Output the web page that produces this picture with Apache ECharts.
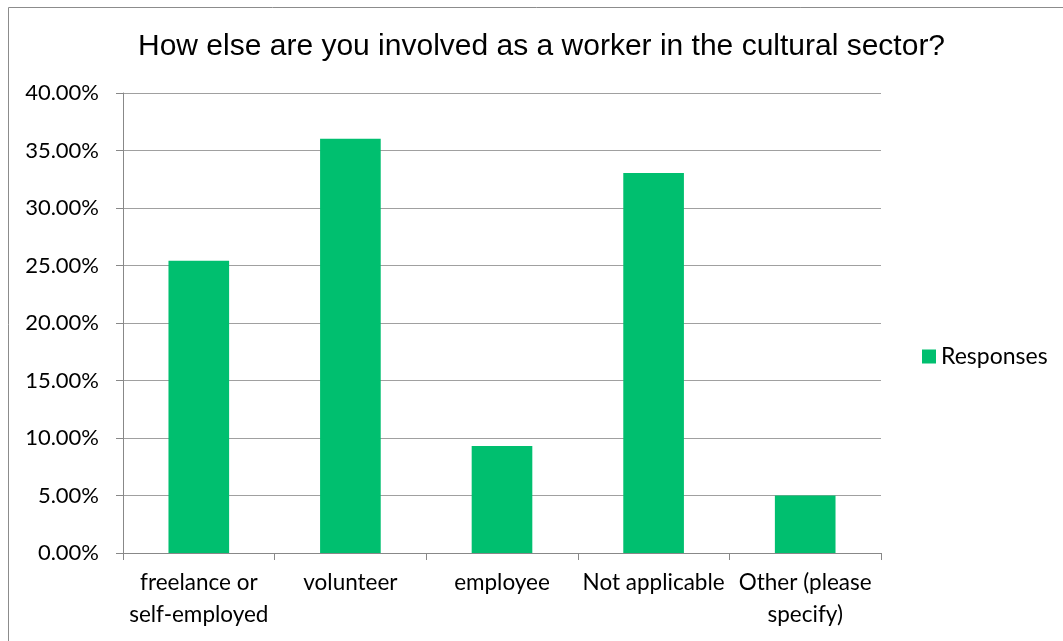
<!DOCTYPE html>
<html>
<head>
<meta charset="utf-8">
<script src="https://cdn.jsdelivr.net/npm/echarts@6/dist/echarts.min.js"></script>
<style>
  html, body { margin: 0; padding: 0; background: #ffffff; }
  #chart { width: 1063px; height: 641px; }
</style>
</head>
<body>
<div id="chart"></div>
<script>
// Survey question and answer options
const chartTitle = 'How else are you involved as a worker in the cultural sector?';
const categories = [
  'freelance or\nself-employed',
  'volunteer',
  'employee',
  'Not applicable',
  'Other (please\nspecify)'
];
// Share of responses, in percent
const responses = [25.42, 36.02, 9.30, 33.05, 5.00];
const seriesName = 'Responses';
// Value axis range and step, in percent
const yMin = 0;
const yMax = 40;
const yStep = 5;

const labelFont = 'Lato, "Open Sans", sans-serif';
const chart = echarts.init(document.getElementById('chart'));

chart.setOption({
  backgroundColor: '#ffffff',
  animation: false,
  title: {
    text: chartTitle,
    left: 133,
    top: 27,
    textStyle: {
      fontFamily: '"Liberation Sans", Arial, sans-serif',
      fontSize: 30,
      fontWeight: 'normal',
      color: '#000000'
    }
  },
  legend: {
    data: [seriesName],
    orient: 'vertical',
    left: 917,
    top: 340,
    icon: 'rect',
    itemWidth: 14,
    itemHeight: 14,
    textStyle: { fontFamily: labelFont, fontSize: 23, color: '#000000' }
  },
  grid: {
    left: 123,
    right: 182,
    top: 93,
    bottom: 88,
    containLabel: false
  },
  xAxis: {
    type: 'category',
    data: categories,
    axisLine: { lineStyle: { color: '#888888', width: 1 } },
    axisTick: { show: true, length: 7, lineStyle: { color: '#888888' } },
    axisLabel: {
      color: '#000000',
      fontFamily: labelFont,
      fontSize: 22.5,
      lineHeight: 32,
      margin: 14,
      interval: 0
    }
  },
  yAxis: {
    type: 'value',
    min: yMin,
    max: yMax,
    interval: yStep,
    axisLine: { show: true, lineStyle: { color: '#888888', width: 1 } },
    axisTick: { show: true, length: 7, lineStyle: { color: '#888888' } },
    axisLabel: {
      color: '#000000',
      fontFamily: labelFont,
      fontSize: 22,
      margin: 24,
      formatter: v => v.toFixed(2) + '%'
    },
    splitLine: { show: true, lineStyle: { color: '#a0a0a0', width: 1 } }
  },
  series: [{
    name: seriesName,
    type: 'bar',
    data: responses,
    barCategoryGap: '60%',
    itemStyle: { color: '#00BF6F' }
  }],
  graphic: [{
    type: 'rect',
    shape: { x: 8.5, y: 7.5, width: 1100, height: 700 },
    style: { fill: 'none', stroke: '#8c8c8c', lineWidth: 1 },
    silent: true
  }]
});
</script>
</body>
</html>
